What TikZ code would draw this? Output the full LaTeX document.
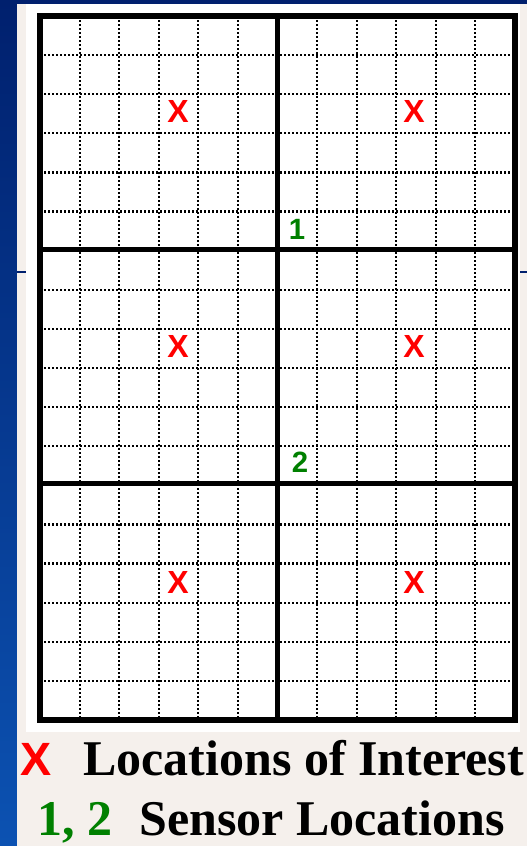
\documentclass[tikz,border=0pt]{standalone}
\usepackage{fontspec}
\setmainfont{Liberation Serif}
\newfontfamily\arialfont{Liberation Sans}
\usetikzlibrary{positioning}
\definecolor{SlideBlue}{RGB}{0,32,110}
\definecolor{SlideBlueLight}{RGB}{12,82,178}
\definecolor{PaperBeige}{RGB}{245,240,236}
\definecolor{MarkRed}{RGB}{255,0,0}
\definecolor{SensorGreen}{RGB}{0,128,0}

\begin{document}
\begin{tikzpicture}[
    x=0.75pt, y=-0.75pt,
    minorline/.style={black, line width=1.6pt, dash pattern=on 1.5pt off 1.5pt},
    majorline/.style={black, line width=3.8pt},
    poi/.style={text=MarkRed, inner sep=0pt, font=\arialfont\bfseries\fontsize{24}{24}\selectfont},
    sensor/.style={text=SensorGreen, inner sep=0pt, font=\arialfont\bfseries\fontsize{22}{22}\selectfont},
    legend/.style={inner sep=0pt, anchor=base west, font=\bfseries\fontsize{37.5}{37.5}\selectfont},
]
\useasboundingbox (0,0) rectangle (527,846);

% --- slide background ---
\shade[top color=SlideBlue, bottom color=SlideBlueLight] (0,0) rectangle (527,846);
\fill[PaperBeige] (17,4) rectangle (527,846);
\draw[SlideBlue, line width=1.2pt] (17,272) -- (527,272);
\fill[white] (26,4) rectangle (520,732);

% --- grid: 12 x 18 cells ---
\foreach \i in {1,...,11}
    \draw[minorline] ({40+\i*475/12},16) -- ({40+\i*475/12},720);
\foreach \j in {1,...,17}
    \draw[minorline] (40,{16+\j*704/18}) -- (515,{16+\j*704/18});

% blocks of 6 x 6
\draw[majorline] (277.5,16) -- (277.5,720);
\draw[majorline] (40,249.5) -- (515,249.5);
\draw[majorline] (40,483.5) -- (515,483.5);
\draw[majorline] (40,16) rectangle (515,720);

% --- locations of interest ---
\foreach \c/\cx in {l/178, r/414}{
    \foreach \r/\cy in {1/111, 2/346, 3/582}{
        \node[poi] (poi\c\r) at (\cx,\cy) {X};
    }
}

% --- sensors ---
\node[sensor] (sensor1) at (297,229) {1};
\node[sensor] (sensor2) at (300,462) {2};

% --- legend ---
\node[legend, text=MarkRed, font=\arialfont\bfseries\fontsize{35}{35}\selectfont]
    (legpoi) at (20,775) {X};
\node[legend] (legpoitext) at (83,775) {Locations of Interest};
\node[legend, text=SensorGreen] (legsensor) at (37,835) {1, 2};
\node[legend, right=20pt of legsensor.base east, anchor=base west] (legsensortext)
    {Sensor Locations};

\end{tikzpicture}
\end{document}
